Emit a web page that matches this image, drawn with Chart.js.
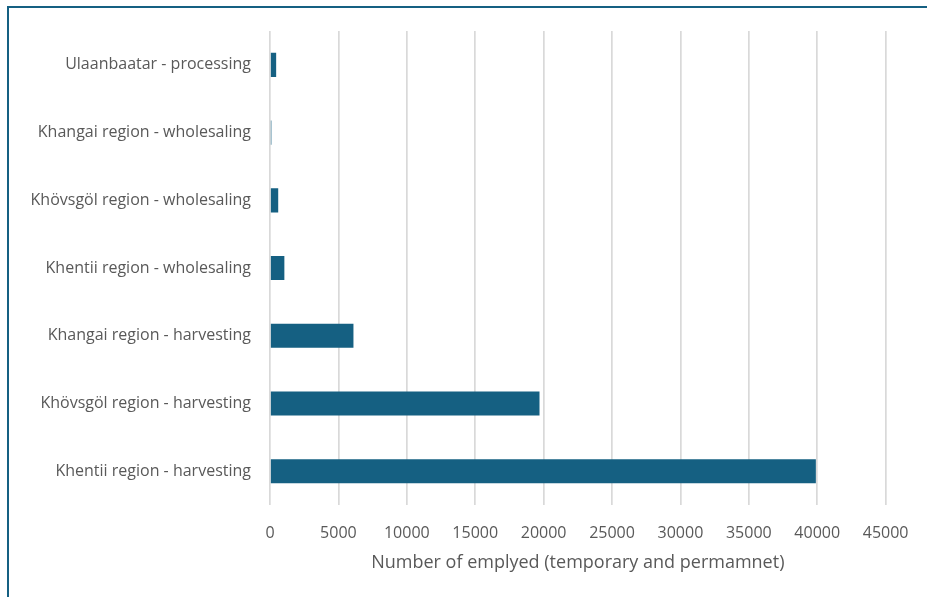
<!DOCTYPE html>
<html>
<head>
<meta charset="utf-8">
<script src="https://cdn.jsdelivr.net/npm/chart.js@4"></script>
<style>
  html, body { margin: 0; padding: 0; background: #ffffff; overflow: hidden; }
  #frame {
    position: absolute; left: 7px; top: 6px; width: 1000px; height: 700px;
    border-top: 2px solid #156082; border-left: 2px solid #156082;
    box-sizing: border-box;
  }
  #wrap { position: absolute; left: 0; top: 0; width: 927px; height: 597px; }
</style>
</head>
<body>
<div id="frame"></div>
<div id="wrap"><canvas id="chart" width="927" height="597"></canvas></div>
<script>
// Employment by region and value-chain stage
const categories = [
  'Ulaanbaatar - processing',
  'Khangai region - wholesaling',
  'Khövsgöl region - wholesaling',
  'Khentii region - wholesaling',
  'Khangai region - harvesting',
  'Khövsgöl region - harvesting',
  'Khentii region - harvesting'
];
const employed = [450, 100, 600, 1050, 6100, 19700, 39900];
const axisTitle = 'Number of emplyed (temporary and permamnet)';
const xMax = 45000;
const xStep = 5000;

const textColor = '#595959';
const fontFamily = '"Open Sans", Roboto, sans-serif';

new Chart(document.getElementById('chart'), {
  type: 'bar',
  data: {
    labels: categories,
    datasets: [{
      data: employed,
      backgroundColor: '#156082',
      borderWidth: 0,
      barPercentage: 0.355,
      categoryPercentage: 1
    }]
  },
  options: {
    indexAxis: 'y',
    responsive: false,
    animation: false,
    events: [],
    layout: { padding: { left: 0, right: 36, top: 31, bottom: 23 } },
    plugins: {
      legend: { display: false },
      tooltip: { enabled: false }
    },
    scales: {
      x: {
        min: 0,
        max: xMax,
        ticks: {
          stepSize: xStep,
          color: textColor,
          font: { family: fontFamily, size: 16 },
          padding: 18.5,
          maxRotation: 0,
          callback: (v) => String(v)
        },
        title: {
          display: true,
          text: axisTitle,
          color: textColor,
          font: { family: fontFamily, size: 18 },
          padding: { top: -9, bottom: 0 }
        },
        grid: { color: '#d9d9d9', lineWidth: 1.7, drawTicks: false },
        border: { display: false }
      },
      y: {
        ticks: {
          color: textColor,
          font: { family: fontFamily, size: 16 },
          padding: 19
        },
        grid: { display: false, drawTicks: false },
        border: { display: false },
        afterFit(scale) { scale.width = 270; }
      }
    }
  }
});
</script>
</body>
</html>
